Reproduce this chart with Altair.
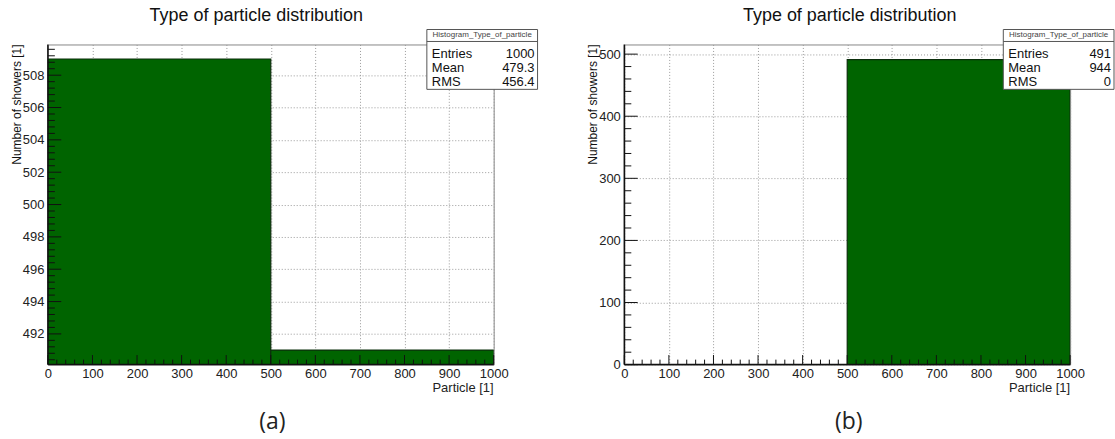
import altair as alt
import numpy as np
import pandas as pd

# ---- text ----
TITLE = "Type of particle distribution"
Y_TITLE = "Number of showers [1]"
X_TITLE = "Particle [1]"
STAT_HEADER = "Histogram_Type_of_particle"
STAT_NAMES = ["Entries", "Mean", "RMS"]

# ---- panel (a): both particle types ----
a_bin_lo = [0, 500]
a_bin_hi = [500, 1000]
a_counts = [509, 491]
a_stats = ["1000", "479.3", "456.4"]
a_ydomain = [490.1, 509.9]
a_ymajor = [492, 494, 496, 498, 500, 502, 504, 506, 508]
a_yminor = [round(v, 1) for v in np.arange(490.4, 509.9, 0.4) if abs(v / 2 - round(v / 2)) > 1e-6]

# ---- panel (b): one particle type ----
b_bin_lo = [500]
b_bin_hi = [1000]
b_counts = [491]
b_stats = ["491", "944", "0"]
b_ydomain = [0, 515.55]
b_ymajor = [0, 100, 200, 300, 400, 500]
b_yminor = [v for v in range(20, 516, 20) if v % 100]

x_major = [0, 100, 200, 300, 400, 500, 600, 700, 800, 900, 1000]
x_minor = [v for v in range(20, 1000, 20) if v % 100]

W, H = 447, 321
GREEN = "#006400"
EDGE = "#0b2e0b"
FONT = "Liberation Sans"


def panel(lo, hi, counts, stats, ydomain, ymajor, yminor, title_x, tag, tag_x, margin):
    xs = alt.Scale(domain=[0, 1000], nice=False)
    ys = alt.Scale(domain=ydomain, nice=False, zero=False)
    x_axis = alt.Axis(
        values=x_major, grid=True, ticks=False, domain=False, title=None,
        format="d", labelFontSize=13, labelPadding=3, labelFont=FONT,
        labelColor="#222", labelFlush=False,
        gridColor="#9a9a9a", gridDash=[1, 2], gridWidth=1)
    y_axis = alt.Axis(
        values=ymajor, grid=True, ticks=False, domain=False, title=None,
        format="d", labelFontSize=13, labelPadding=4, labelFont=FONT,
        labelColor="#222",
        gridColor="#9a9a9a", gridDash=[1, 2], gridWidth=1)
    hist = pd.DataFrame({"lo": lo, "hi": hi, "count": counts})

    bars = alt.Chart(hist).mark_bar(
        color=GREEN, stroke=EDGE, strokeWidth=1.2, clip=True
    ).encode(
        x=alt.X("lo:Q", scale=xs, axis=x_axis),
        x2="hi:Q",
        y=alt.Y("count:Q", scale=ys, axis=y_axis),
        y2=alt.datum(0),
    )

    def xticks(vals, length):
        return alt.Chart(pd.DataFrame({"v": vals})).mark_rule(
            color="#111", strokeWidth=1
        ).encode(
            x=alt.X("v:Q", scale=xs, axis=x_axis),
            y=alt.value(H), y2=alt.value(H - length),
        )

    def yticks(vals, length):
        return alt.Chart(pd.DataFrame({"v": vals})).mark_rule(
            color="#111", strokeWidth=1
        ).encode(
            y=alt.Y("v:Q", scale=ys, axis=y_axis),
            x=alt.value(0), x2=alt.value(length),
        )

    one = pd.DataFrame({"t": [0]})
    # invisible extent so the page margins around the plot area stay fixed
    extent = alt.Chart(one).mark_rect(opacity=0).encode(
        x=alt.value(margin[0]), x2=alt.value(margin[1]),
        y=alt.value(-43), y2=alt.value(H + 75))
    frame_left = alt.Chart(one).mark_rule(color="#111", strokeWidth=1.5).encode(
        x=alt.value(0), y=alt.value(0), y2=alt.value(H))
    frame_bottom = alt.Chart(one).mark_rule(color="#111", strokeWidth=1.5).encode(
        x=alt.value(0), x2=alt.value(W), y=alt.value(H))

    def label(text, x, y, size, align="center", angle=0, font=FONT, color="#111"):
        return alt.Chart(pd.DataFrame({"t": [text]})).mark_text(
            fontSize=size, font=font, align=align, baseline="middle",
            angle=angle, color=color
        ).encode(text="t:N", x=alt.value(x), y=alt.value(y))

    box = alt.Chart(one).mark_rect(fill="white", stroke="#555", strokeWidth=1).encode(
        x=alt.value(380), x2=alt.value(491), y=alt.value(-15), y2=alt.value(45))
    box_sep = alt.Chart(one).mark_rule(color="#555", strokeWidth=1).encode(
        x=alt.value(380), x2=alt.value(491), y=alt.value(-3))

    layers = [extent, bars,
              xticks(x_minor, 5), xticks(x_major, 9.6),
              yticks(yminor, 7), yticks(ymajor, 13.4),
              frame_left, frame_bottom,
              box, box_sep,
              label(STAT_HEADER, 435.5, -9, 8, color="#444"),
              label(TITLE, title_x, -29, 18),
              label(Y_TITLE, -31, 0, 12, align="right", angle=270),
              label(X_TITLE, W, H + 23, 13, align="right", color="#222"),
              label(tag, tag_x, H + 58, 23, font="Open Sans", color="#222")]
    for i, (name, val) in enumerate(zip(STAT_NAMES, stats)):
        yy = 10 + i * 13.7
        layers.append(label(name, 385, yy, 13, align="left"))
        layers.append(label(val, 488, yy, 13, align="right"))

    return alt.layer(*layers).properties(width=W, height=H)


left = panel(a_bin_lo, a_bin_hi, a_counts, a_stats, a_ydomain, a_ymajor, a_yminor,
             209, "(a)", 225, (-47, W))
right = panel(b_bin_lo, b_bin_hi, b_counts, b_stats, b_ydomain, b_ymajor, b_yminor,
              226, "(b)", 225, (0, W + 43))

chart = alt.hconcat(left, right, spacing=131, bounds="flush").properties(
    padding=0,
    background="white",
).configure_view(stroke="#888", strokeWidth=1)

chart.save("out.html", embed_options={"renderer": "svg", "actions": False})
